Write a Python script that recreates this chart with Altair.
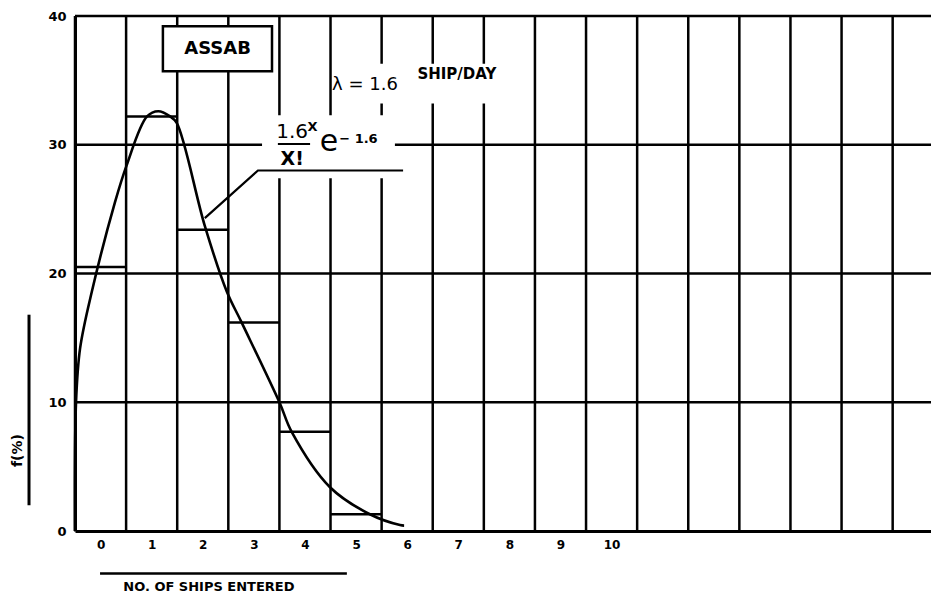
import altair as alt
import pandas as pd

# ---------------- data ----------------
ships = [0, 1, 2, 3, 4, 5]
freq_pct = [20.5, 32.2, 23.4, 16.2, 7.7, 1.3]

curve_x = [-0.5, -0.48, -0.40, -0.17, 0.28, 0.51, 0.91, 1.13, 1.36, 1.49,
           2.04, 2.47, 2.76, 3.50, 3.74, 4.49, 5.27, 5.86, 5.94]
curve_y = [0.0, 10.0, 14.2, 18.6, 25.5, 28.4, 32.2, 32.6, 32.2, 31.7,
           23.7, 18.6, 16.2, 10.0, 7.7, 3.4, 1.3, 0.46, 0.42]

vgrid_x = [-0.5, 0.5, 1.5, 2.5, 3.5, 4.5, 5.5, 6.5, 7.5, 8.5, 9.5, 10.5,
           11.5, 12.5, 13.5, 14.5, 15.5]
hgrid_y = [10, 20, 30, 40]
x_tick_values = [0, 1, 2, 3, 4, 5, 6, 7, 8, 9, 10]
y_tick_values = [0, 10, 20, 30, 40]

FONT = "DejaVu Sans"

x_scale = alt.Scale(domain=[-0.5, 16.25], nice=False, zero=False)
y_scale = alt.Scale(domain=[0, 40], nice=False, zero=True)

x_axis = alt.Axis(values=x_tick_values, title="", grid=False, ticks=False,
                  labelFont=FONT, labelFontWeight="bold", labelFontSize=12,
                  labelColor="black", labelPadding=8, domainColor="black",
                  domainWidth=3)
y_axis = alt.Axis(values=y_tick_values, title="", grid=False, ticks=False,
                  labelFont=FONT, labelFontWeight="bold", labelFontSize=13,
                  labelColor="black", labelPadding=9, domainColor="black",
                  domainWidth=3)


def X(field):
    return alt.X(f"{field}:Q", scale=x_scale, axis=x_axis)


def Y(field):
    return alt.Y(f"{field}:Q", scale=y_scale, axis=y_axis)


# ---------------- tables ----------------
vgrid = pd.DataFrame({"x": vgrid_x})
hgrid = pd.DataFrame({"y": hgrid_y})
bars = pd.DataFrame({"ship": ships, "f": freq_pct})
bars["x0"] = bars["ship"] - 0.5
bars["x1"] = bars["ship"] + 0.5
curve = pd.DataFrame({"x": curve_x, "y": curve_y})

# white areas behind lettering (break grid lines like the drawing)
blank = pd.DataFrame({"x": [4.63, 3.16], "x2": [8.04, 5.76],
                      "y": [36.3, 32.3], "y2": [33.2, 27.4]})
box = pd.DataFrame({"x": [1.22], "x2": [3.355], "y": [39.2], "y2": [35.7]})

leader = pd.DataFrame({"x": [2.04, 3.08, 5.92], "y": [24.3, 28.0, 28.0],
                       "o": [0, 1, 2]})
hlines = pd.DataFrame({"x": [3.47, -0.01], "x2": [4.10, 4.82],
                       "y": [30.05, -3.3], "w": [2, 2.5]})
vline = pd.DataFrame({"x": [-1.40], "y": [2.0], "y2": [16.8]})

# ---------------- layers ----------------
vg = alt.Chart(vgrid).mark_rule(color="black", strokeWidth=2.5).encode(x=X("x"))
hg = alt.Chart(hgrid).mark_rule(color="black", strokeWidth=2.5).encode(y=Y("y"))

blank_l = alt.Chart(blank).mark_rect(color="white").encode(
    x=X("x"), x2="x2", y=Y("y"), y2="y2")
box_l = alt.Chart(box).mark_rect(fill="white", stroke="black", strokeWidth=2.5).encode(
    x=X("x"), x2="x2", y=Y("y"), y2="y2")

bar_tops = alt.Chart(bars).mark_rule(color="black", strokeWidth=2.5).encode(
    x=X("x0"), x2="x1", y=Y("f"))

curve_l = alt.Chart(curve).mark_line(color="black", strokeWidth=2.6,
                                     interpolate="catmull-rom").encode(
    x=X("x"), y=Y("y"))

leader_l = alt.Chart(leader).mark_line(color="black", strokeWidth=2.2).encode(
    x=X("x"), y=Y("y"), order="o:O")

hlines_l = alt.Chart(hlines).mark_rule(color="black").encode(
    x=X("x"), x2="x2", y=Y("y"), strokeWidth=alt.StrokeWidth("w:Q", scale=None))
vline_l = alt.Chart(vline).mark_rule(color="black", strokeWidth=3).encode(
    x=X("x"), y=Y("y"), y2="y2")


def text_layer(txt, x, y, size, weight="normal", align="left",
               baseline="alphabetic", angle=0):
    df = pd.DataFrame({"x": [x], "y": [y], "t": [txt]})
    return alt.Chart(df).mark_text(font=FONT, fontSize=size, fontWeight=weight,
                                   align=align, baseline=baseline, angle=angle,
                                   color="black").encode(
        x=X("x"), y=Y("y"), text="t:N")


texts = [
    text_layer("ASSAB", 2.29, 37.45, 18, "bold", "center", "middle"),
    text_layer("λ = 1.6", 4.53, 34.28, 18),
    text_layer("SHIP/DAY", 6.20, 35.13, 15, "bold"),
    text_layer("1.6", 3.75, 30.5, 20, "normal", "center"),
    text_layer("X", 4.05, 31.05, 13, "bold"),
    text_layer("X!", 3.75, 28.43, 19, "bold", "center"),
    text_layer("e", 4.29, 29.5, 30),
    text_layer("− 1.6", 4.67, 30.12, 13, "bold"),
    text_layer("NO. OF SHIPS ENTERED", 2.12, -4.65, 13, "bold", "center"),
    text_layer("f(%)", -1.615, 6.24, 14, "bold", "center", "middle", 270),
]

chart = alt.layer(vg, hg, blank_l, box_l, bar_tops, curve_l, leader_l,
                  hlines_l, vline_l, *texts).properties(
    width=856, height=515,
    autosize=alt.AutoSizeParams(type="none"),
    padding={"left": 67, "top": 8, "right": 0, "bottom": 66},
    background="white",
).configure_view(strokeWidth=0)

chart.save("out.html", embed_options={"renderer": "svg", "actions": False})
